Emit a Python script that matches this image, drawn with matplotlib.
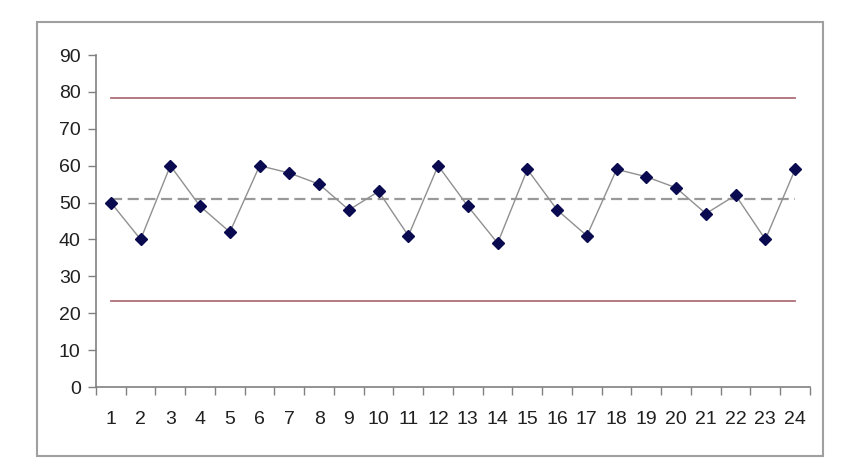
import matplotlib.pyplot as plt
from matplotlib.patches import Rectangle

samples = list(range(1, 25))
values = [50, 40, 60, 49, 42, 60, 58, 55, 48, 53, 41, 60,
          49, 39, 59, 48, 41, 59, 57, 54, 47, 52, 40, 59]
ucl = 78.3
lcl = 23.3
mean = sum(values) / len(values)

plt.rcParams['font.family'] = ['Liberation Sans', 'DejaVu Sans']

fig = plt.figure(figsize=(8.62, 4.74), dpi=100)
fig.patches.append(Rectangle((37 / 862, 1 - 456 / 474), (823 - 37) / 862, (456 - 22) / 474,
                             transform=fig.transFigure, fill=False,
                             edgecolor='#a0a0a0', linewidth=1.5))
ax = fig.add_axes([96 / 862, 1 - 387 / 474, (810 - 96) / 862, (387 - 55) / 474])

ax.plot([samples[0], samples[-1]], [ucl, ucl], color='#b07078', linewidth=1.3)
ax.plot([samples[0], samples[-1]], [lcl, lcl], color='#b07078', linewidth=1.3)
ax.plot([samples[0], samples[-1]], [mean, mean], color='#999999', linewidth=1.6,
        linestyle=(0, (5, 2.5)))
ax.plot(samples, values, color='#909090', linewidth=1.0, marker='D',
        markersize=6, markerfacecolor='#0a0a50', markeredgecolor='#0a0a50')

ax.set_xlim(0.5, 24.5)
ax.set_ylim(0, 90)
ax.set_yticks(range(0, 91, 10))
ax.set_xticks(samples)
ax.set_xticks([i + 0.5 for i in range(0, 25)], minor=True)
ax.tick_params(axis='x', which='major', length=0, pad=17, labelsize=14, labelcolor='#202020')
ax.tick_params(axis='x', which='minor', length=6, color='#808080', width=1)
ax.tick_params(axis='y', length=6, color='#808080', width=1, pad=5, labelsize=14,
               labelcolor='#202020')
for s in ['top', 'right']:
    ax.spines[s].set_visible(False)
for s in ['left', 'bottom']:
    ax.spines[s].set_color('#808080')
    ax.spines[s].set_linewidth(1.2)

plt.savefig('out.png')
